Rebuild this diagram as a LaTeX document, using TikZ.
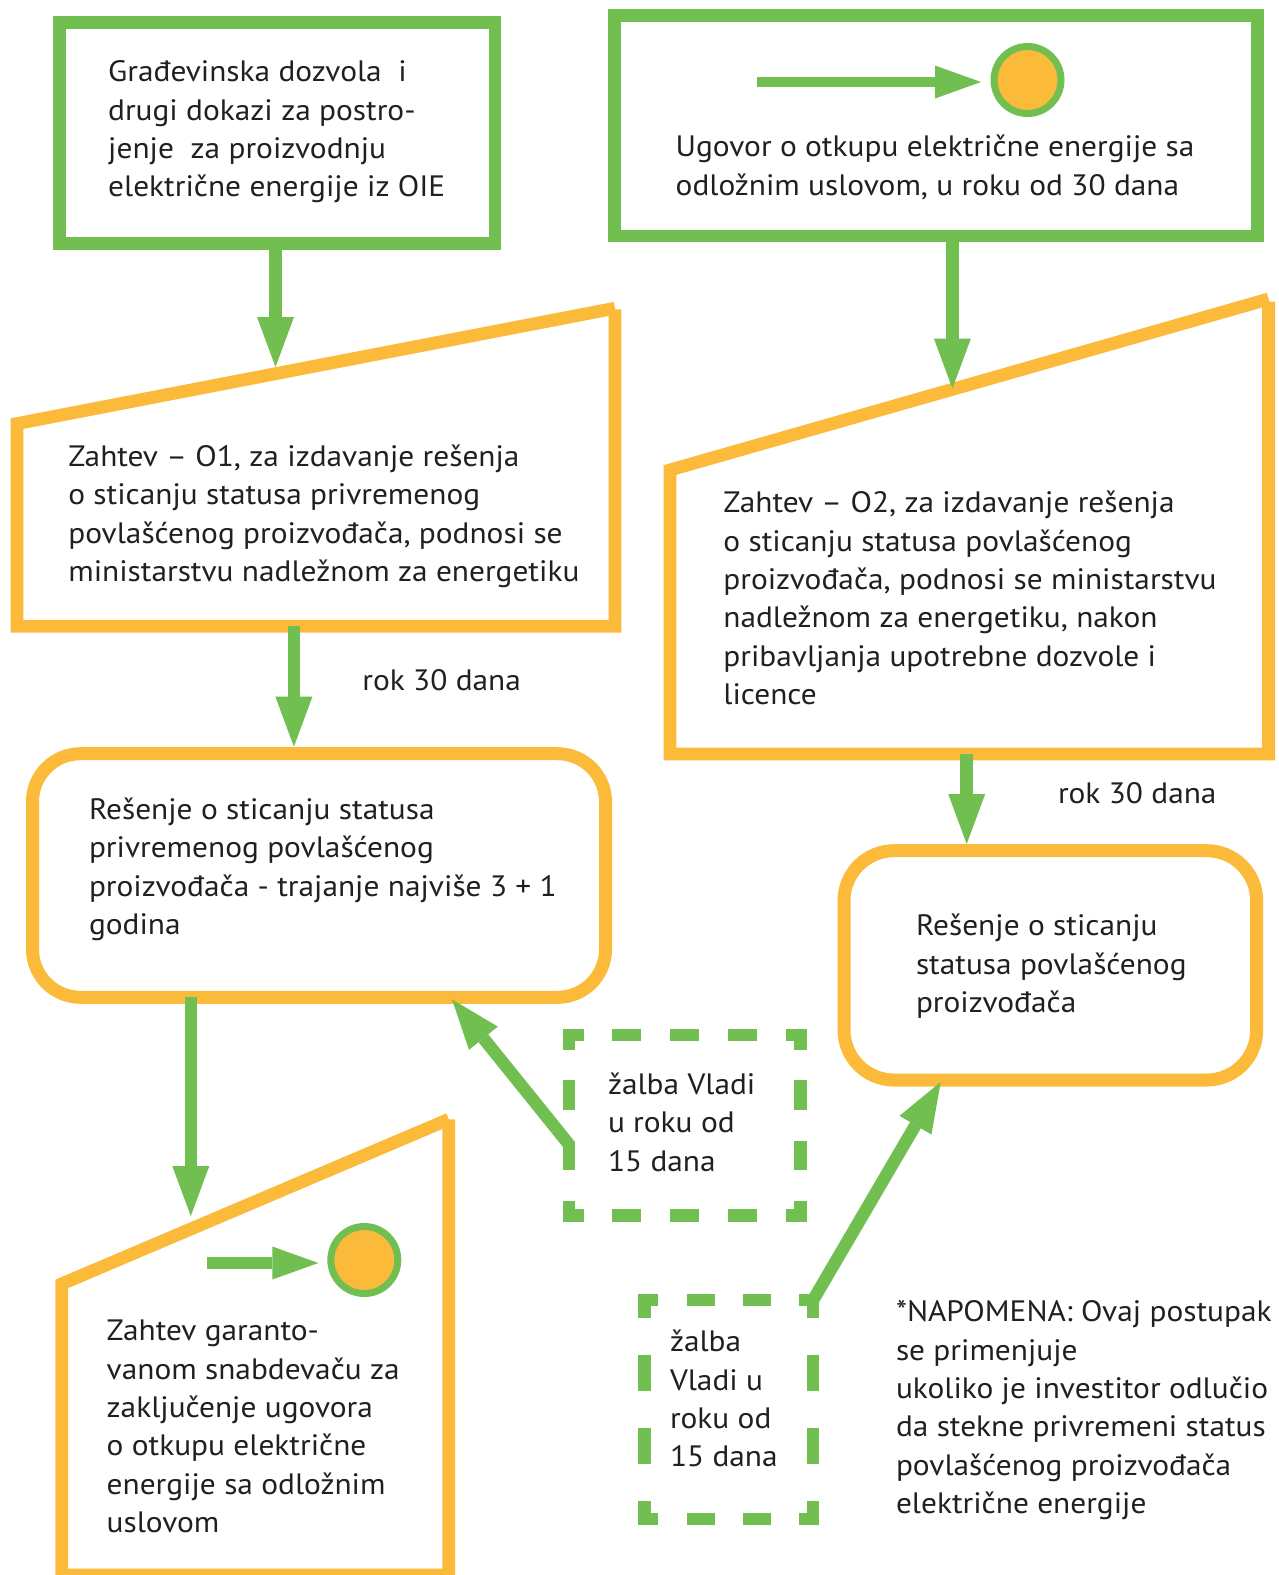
\documentclass[tikz,border=0pt]{standalone}
\usepackage{fontspec}
\setmainfont[FakeStretch=1.063]{PT Sans}
\usetikzlibrary{arrows.meta}
\definecolor{leaf}{RGB}{113,190,81}
\definecolor{amber}{RGB}{251,186,58}
\definecolor{ink}{RGB}{35,31,32}
% several left-aligned lines; the node's base is the first line's baseline
\newcommand{\tlines}[1]{\begin{tabular}[t]{@{}l@{}}#1\end{tabular}}

\begin{document}
\begin{tikzpicture}[x=1pt,y=-1pt,
  gbox/.style={draw=leaf, line width=12.8pt, inner sep=0pt, outer sep=0pt},
  obox/.style={draw=amber, line width=13pt, inner sep=0pt, outer sep=0pt},
  slant/.style={draw=amber, line width=12.8pt, line join=miter},
  ghost/.style={inner sep=0pt, outer sep=0pt},
  dotnode/.style={circle, draw=leaf, fill=amber, line width=7pt, minimum size=67pt, inner sep=0pt},
  txt/.style={anchor=base west, inner sep=0pt, outer sep=0pt, text=ink,
              font=\fontsize{29.5}{38.4}\selectfont},
  flow/.style={draw=leaf, line width=12.5pt,
               -{Triangle[width=37pt,length=50pt,line width=0pt]}},
  flowsmall/.style={draw=leaf, line width=#1,
               -{Triangle[width=33pt,length=46pt,line width=0pt]}},
  dashside/.style={draw=leaf, line width=12.4pt, dash pattern=#1},
]
\useasboundingbox[fill=white] (0,0) rectangle (1278,1575);

% ---------- top row: green boxes ----------
\node[gbox, minimum width=435.4pt, minimum height=221pt] (A) at (277.2,133.2) {};
\node[txt] (At) at (108.2,81.7) {\tlines{Građevinska dozvola\ \ i\\drugi dokazi za postro-\\jenje\ \ za proizvodnju\\električne energije iz OIE}};

\node[gbox, minimum width=643.2pt, minimum height=220.7pt] (B) at (935.9,125.7) {};
\node[dotnode] (Bdot) at (1027.5,80) {};
\coordinate (Bsrc) at (756.7,82);
\coordinate (Btip) at (981,82);
\draw[flowsmall=10pt] (Bsrc) -- (Btip);
\node[txt] (Bt) at (675.7,156.7) {\tlines{Ugovor o otkupu električne energije sa\\odložnim uslovom, u roku od 30 dana}};

% ---------- slanted request boxes ----------
\coordinate (Ctl) at (17,423.6);
\coordinate (Ctr) at (615,308.2);
\coordinate (Crt) at (615,309.3);
\coordinate (Cbr) at (615,626.2);
\coordinate (Cbl) at (17,626.2);
\draw[slant] (Crt) -- (Cbr) -- (Cbl) -- (Ctl) -- (Ctr);
\node[txt] (Ct) at (68.3,466.4) {\tlines{Zahtev – O1, za izdavanje rešenja\\o sticanju statusa privremenog\\povlašćenog proizvođača, podnosi se\\ministarstvu nadležnom za energetiku}};

\coordinate (Ftl) at (670,470);
\coordinate (Ftr) at (1268.6,299);
\coordinate (Frt) at (1268.6,301.7);
\coordinate (Fbr) at (1268.6,754);
\coordinate (Fbl) at (670,754);
\draw[slant] (Frt) -- (Fbr) -- (Fbl) -- (Ftl) -- (Ftr);
\node[txt] (Ft) at (723.4,512.7) {\tlines{Zahtev – O2, za izdavanje rešenja\\o sticanju statusa povlašćenog\\proizvođača, podnosi se ministarstvu\\nadležnom za energetiku, nakon\\pribavljanja upotrebne dozvole i\\licence}};

\coordinate (Etl) at (61.7,1283.9);
\coordinate (Etr) at (448.8,1119.3);
\coordinate (Ert) at (448.8,1119.3);
\coordinate (Ebr) at (448.8,1575);
\coordinate (Ebl) at (61.7,1575);
\draw[slant] (Ert) -- (Ebr) -- (Ebl) -- (Etl) -- (Etr);
\node[dotnode] (Edot) at (364.3,1260) {};
\coordinate (Esrc) at (207,1263);
\coordinate (Etip) at (318.3,1263);
\draw[flowsmall=12pt] (Esrc) -- (Etip);
\node[txt] (Et) at (106.7,1340.7) {\tlines{Zahtev garanto-\\vanom snabdevaču za\\zaključenje ugovora\\o otkupu električne\\energije sa odložnim\\uslovom}};

% ---------- decisions ----------
\node[obox, rounded corners=48pt, minimum width=573pt, minimum height=243.6pt] (D) at (319,875.5) {};
\node[txt] (Dt) at (89,819.3) {\tlines{Rešenje o sticanju statusa\\privremenog povlašćenog\\proizvođača - trajanje najviše 3 + 1\\godina}};

\node[obox, rounded corners=50pt, minimum width=412.7pt, minimum height=229.3pt] (G) at (1050.35,965.35) {};
\node[txt] (Gt) at (916,935.7) {\tlines{Rešenje o sticanju\\statusa povlašćenog\\proizvođača}};

% ---------- appeals (dashed boxes) ----------
\node[ghost, minimum width=231.7pt, minimum height=180.5pt] (H1) at (684.7,1125.3) {};
\draw[dashside={on 21pt off 28.75pt on 29pt off 28.75pt on 29pt off 28.75pt on 29pt off 28.75pt on 21pt}]
  ([xshift=-6.2pt]H1.north west) -- ([xshift=6.2pt]H1.north east);
\draw[dashside={on 21pt off 28.75pt on 29pt off 28.75pt on 29pt off 28.75pt on 29pt off 28.75pt on 21pt}]
  ([xshift=-6.2pt]H1.south west) -- ([xshift=6.2pt]H1.south east);
\draw[dashside={on 21pt off 30.6pt on 29.5pt off 30.6pt on 29.5pt off 30.6pt on 21pt}]
  ([yshift=6.2pt]H1.north west) -- ([yshift=-6.2pt]H1.south west);
\draw[dashside={on 21pt off 30.6pt on 29.5pt off 30.6pt on 29.5pt off 30.6pt on 21pt}]
  ([yshift=6.2pt]H1.north east) -- ([yshift=-6.2pt]H1.south east);
\node[txt] (H1t) at (608,1094.3) {\tlines{žalba Vladi\\u roku od\\15 dana}};

\node[ghost, minimum width=168.5pt, minimum height=218.6pt] (H2) at (728.75,1409.5) {};
\draw[dashside={on 20pt off 28.33pt on 28pt off 28.33pt on 28pt off 28.33pt on 20pt}]
  ([xshift=-6.2pt]H2.north west) -- ([xshift=6.2pt]H2.north east);
\draw[dashside={on 20pt off 28.33pt on 28pt off 28.33pt on 28pt off 28.33pt on 20pt}]
  ([xshift=-6.2pt]H2.south west) -- ([xshift=6.2pt]H2.south east);
\draw[dashside={on 24pt off 36.7pt on 36.5pt off 36.7pt on 36.5pt off 36.7pt on 24pt}]
  ([yshift=6.2pt]H2.north west) -- ([yshift=-6.2pt]H2.south west);
\draw[dashside={on 24pt off 36.7pt on 36.5pt off 36.7pt on 36.5pt off 36.7pt on 24pt}]
  ([yshift=6.2pt]H2.north east) -- ([yshift=-6.2pt]H2.south east);
\node[txt] (H2t) at (670,1351.7) {\tlines{žalba\\Vladi u\\roku od\\15 dana}};

% ---------- connectors ----------
\coordinate (Cin) at (275.5,367);
\draw[flow] (A.south -| Cin) -- (Cin);
\coordinate (Fin) at (952.4,388.5);
\draw[flow] (B.south -| Fin) -- (Fin);
\coordinate (Cfoot) at (293.9,626);
\draw[flow] (Cfoot) -- ([yshift=7pt]D.north -| Cfoot);
\node[txt] (rok1) at (362.4,690.7) {rok 30 dana};
\coordinate (Ffoot) at (966.7,754);
\draw[flow] (Ffoot) -- ([yshift=6.7pt]G.north -| Ffoot);
\node[txt] (rok2) at (1058,803) {rok 30 dana};
\coordinate (Ein) at (190.8,1216);
\draw[flow] (D.south -| Ein) -- (Ein);
\coordinate (Dhit) at (452,999.3);
\draw[flow] ([yshift=-19pt]H1.west) -- (Dhit);
\coordinate (Ghit) at (940.7,1082);
\draw[flow] (H2.north east) -- (Ghit);

% ---------- note ----------
\node[txt] (note) at (896,1321.6) {\tlines{*NAPOMENA: Ovaj postupak\\se primenjuje\\ukoliko je investitor odlučio\\da stekne privremeni status\\povlašćenog proizvođača\\električne energije}};
\end{tikzpicture}
\end{document}
